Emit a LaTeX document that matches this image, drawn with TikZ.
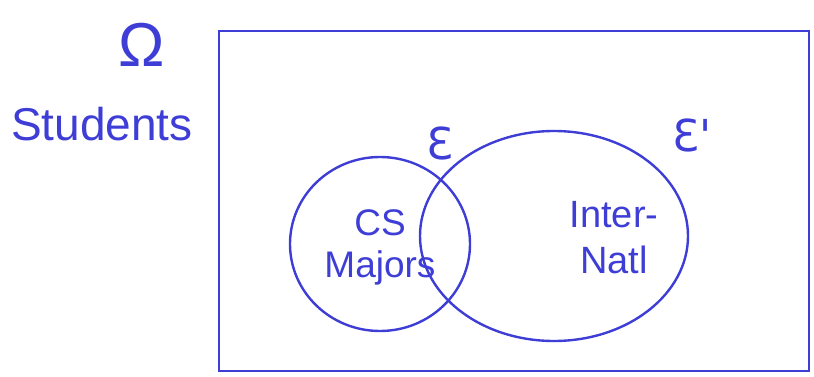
\documentclass[tikz,border=0pt]{standalone}
\usepackage{fontspec}
\setmainfont{Liberation Sans}
\newfontfamily\symfont{DejaVu Sans}
\usetikzlibrary{shapes.geometric}
\definecolor{ink}{RGB}{62,62,215}
\begin{document}
\begin{tikzpicture}[x=1pt,y=-1pt,
  pen/.style={draw=ink,line width=2.4pt},
  lbl/.style={text=ink,align=center,inner sep=0pt}]
\useasboundingbox (0,0) rectangle (814,377);
\node[pen,rectangle,minimum width=590pt,minimum height=340pt,inner sep=0pt] (omega) at (514,201) {};
\node[pen,ellipse,minimum width=180pt,minimum height=174pt,inner sep=0pt] (cs) at (380,244) {};
\node[pen,ellipse,minimum width=268pt,minimum height=210pt,inner sep=0pt] (intl) at (554,236) {};
\node[lbl,font=\fontsize{62}{66}\selectfont] (om) at (142,45) {Ω};
\node[lbl,font=\fontsize{46}{50}\selectfont] (stud) at (102,124) {Students};
\node[lbl,font=\symfont\fontsize{44}{48}\selectfont] (e1) at (440,143) {Ɛ};
\node[lbl,font=\symfont\fontsize{44}{48}\selectfont] (e2) at (692,135) {Ɛ'};
\node[lbl,font=\fontsize{37}{42}\selectfont] (csl) at (380,247) {CS\\Majors};
\node[lbl,font=\fontsize{38}{46}\selectfont] (intll) at (614,238) {Inter-\\Natl};
\end{tikzpicture}
\end{document}
